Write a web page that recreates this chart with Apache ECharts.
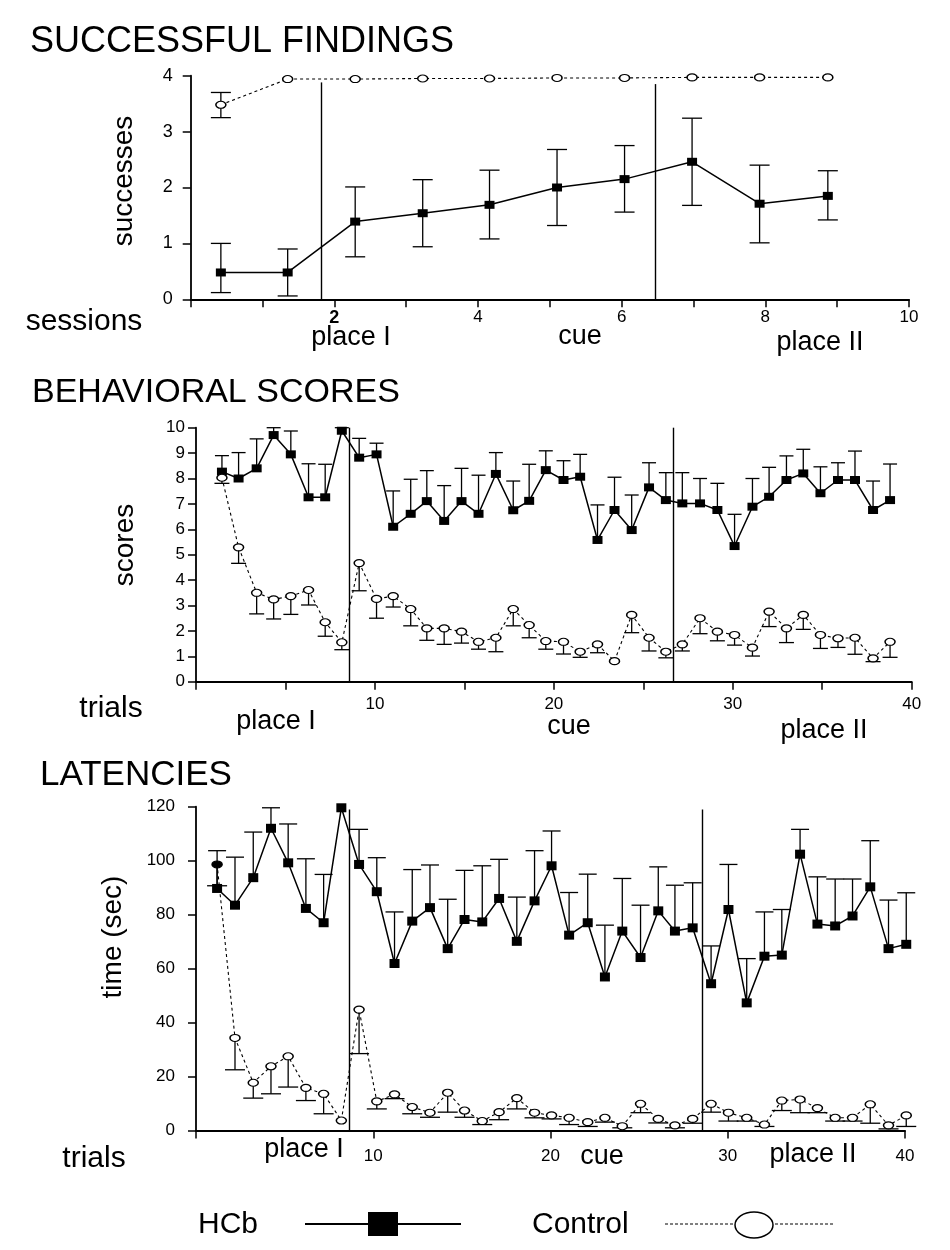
<!DOCTYPE html>
<html>
<head>
<meta charset="utf-8">
<script src="https://cdn.jsdelivr.net/npm/echarts@6/dist/echarts.min.js"></script>
<style>
  html, body { margin: 0; padding: 0; background: #fff; }
  #chart { width: 950px; height: 1250px; }
</style>
</head>
<body>
<div id="chart"></div>
<script>
// ---------- SUCCESSFUL FINDINGS (per session) ----------
const sessionX = [0.42, 1.35, 2.29, 3.23, 4.16, 5.10, 6.04, 6.98, 7.92, 8.87];
const hcbSuccess   = [0.48, 0.48, 1.39, 1.54, 1.69, 2.00, 2.15, 2.46, 1.71, 1.85];
const hcbSuccessHi = [1.00, 0.90, 2.01, 2.14, 2.31, 2.68, 2.75, 3.24, 2.40, 2.30];
const hcbSuccessLo = [0.12, 0.06, 0.76, 0.94, 1.08, 1.32, 1.56, 1.68, 1.01, 1.42];
const ctrlSuccess   = [3.48, 3.94, 3.94, 3.95, 3.95, 3.96, 3.96, 3.97, 3.97, 3.97];
const ctrlSuccessHi = [3.70, null, null, null, null, null, null, null, null, null];
const ctrlSuccessLo = [3.25, null, null, null, null, null, null, null, null, null];
const sessionBreaks = [1.82, 6.47];
const sessionBreakTop = [3.88, 3.85];
const sessionTicks = [2, 4, 6, 8, 10];

// ---------- BEHAVIORAL SCORES (per trial) ----------
const scoreX = [1.45, 2.38, 3.39, 4.34, 5.30, 6.29, 7.22, 8.15, 9.12, 10.09,
  11.02, 12.00, 12.90, 13.87, 14.84, 15.79, 16.76, 17.73, 18.62, 19.55,
  20.54, 21.47, 22.44, 23.39, 24.35, 25.32, 26.26, 27.18, 28.17, 29.14,
  30.10, 31.10, 32.03, 33.00, 33.94, 34.90, 35.88, 36.83, 37.84, 38.79];
const hcbScores = [8.27, 8.00, 8.40, 9.71, 8.95, 7.26, 7.26, 9.88, 8.82, 8.95,
  6.10, 6.61, 7.11, 6.33, 7.11, 6.61, 8.18, 6.75, 7.12, 8.33,
  7.94, 8.07, 5.58, 6.76, 5.97, 7.65, 7.15, 7.02, 7.02, 6.76,
  5.34, 6.89, 7.28, 7.94, 8.20, 7.42, 7.94, 7.94, 6.76, 7.15];
const hcbScoresHi = [8.90, 9.02, 9.56, 10.0, 9.87, 8.58, 8.56, 10.0, 9.58, 9.39,
  7.51, 7.97, 8.31, 7.72, 8.40, 8.13, 9.02, 7.90, 8.56, 9.09,
  8.70, 8.95, 6.96, 8.05, 7.35, 8.62, 8.23, 8.23, 8.00, 7.81,
  6.59, 8.00, 8.44, 8.89, 9.15, 8.46, 8.62, 9.08, 7.90, 8.57];
const ctrlScores = [8.03, 5.29, 3.50, 3.24, 3.37, 3.61, 2.34, 1.55, 4.67, 3.26,
  3.37, 2.86, 2.10, 2.10, 1.97, 1.57, 1.73, 2.86, 2.23, 1.60,
  1.57, 1.18, 1.47, 0.81, 2.63, 1.73, 1.18, 1.47, 2.50, 1.97,
  1.84, 1.34, 2.76, 2.10, 2.63, 1.84, 1.71, 1.73, 0.92, 1.57];
const ctrlScoresLo = [7.81, 4.66, 2.67, 2.47, 2.65, 3.02, 1.79, 1.26, 3.58, 2.50,
  2.94, 2.20, 1.63, 1.47, 1.52, 1.28, 1.18, 2.20, 1.73, 1.28,
  1.09, 0.96, 1.14, null, 1.93, 1.21, 0.94, 1.21, 1.89, 1.61,
  1.44, 1.01, 2.17, 1.54, 2.06, 1.31, 1.35, 1.08, 0.79, 0.96];
const scoreBreaks = [8.58, 26.68];
const scoreBreakTop = [10, 10];

// ---------- LATENCIES (per trial) ----------
const latX = [1.19, 2.20, 3.23, 4.23, 5.20, 6.20, 7.20, 8.20, 9.20, 10.20,
  11.20, 12.20, 13.20, 14.20, 15.15, 16.15, 17.10, 18.10, 19.10, 20.06,
  21.05, 22.10, 23.07, 24.05, 25.08, 26.08, 27.02, 28.02, 29.06, 30.04,
  31.07, 32.07, 33.05, 34.08, 35.06, 36.06, 37.04, 38.04, 39.07, 40.07];
const hcbLat = [89.7, 83.5, 93.7, 112.0, 99.2, 82.3, 77.0, 119.6, 98.6, 88.5,
  61.9, 77.6, 82.6, 67.4, 78.2, 77.3, 86.0, 70.1, 85.1, 98.1,
  72.4, 77.0, 56.9, 73.9, 64.1, 81.4, 73.9, 75.1, 54.4, 81.9,
  47.3, 64.6, 65.0, 102.4, 76.5, 75.8, 79.5, 90.3, 67.4, 69.0];
const hcbLatHi = [103.7, 101.3, 110.6, 119.6, 113.6, 100.7, 94.9, null, 111.6, 101.1,
  81.0, 96.7, 98.4, 85.7, 96.4, 98.1, 100.5, 86.5, 103.7, 111.0,
  88.2, 95.0, 76.1, 93.4, 83.5, 97.7, 90.9, 91.8, 68.4, 98.6,
  63.7, 81.0, 81.9, 111.6, 94.0, 93.2, 93.2, 107.4, 85.4, 88.1];
const ctrlLat = [98.6, 34.3, 17.7, 23.8, 27.5, 15.8, 13.6, 3.7, 44.8, 10.8,
  13.4, 8.7, 6.6, 14.0, 7.4, 3.5, 6.8, 12.0, 6.6, 5.6,
  4.7, 3.1, 4.7, 1.6, 9.9, 4.3, 1.9, 4.3, 9.9, 6.6,
  4.7, 2.2, 11.1, 11.5, 8.3, 4.7, 4.7, 9.7, 1.9, 5.6];
const ctrlLatLo = [90.7, 22.5, 12.0, 13.6, 16.1, 11.1, 6.2, null, 28.5, 8.0,
  11.8, 6.2, 4.9, 6.8, 4.9, 2.2, 4.0, 8.0, 4.7, 4.3,
  2.2, 1.5, 3.1, 1.0, 6.6, 2.8, 1.0, 2.7, 6.8, 3.5,
  3.5, 1.5, 7.4, 6.6, 6.6, 3.5, 3.5, 2.7, 0.6, 1.5];
const latBreaks = [8.67, 28.57];
const latBreakTop = [119, 119];

const phaseNames = ['place I', 'cue', 'place II'];
const seriesNames = ['HCb', 'Control'];

// ---------- helpers ----------
const FONT = '"Liberation Sans", Arial, Helvetica, sans-serif';
function pts(xs, ys) { return xs.map((x, i) => [x, ys[i]]); }
function errs(xs, ys, lo, hi) {
  const out = [];
  xs.forEach((x, i) => {
    const l = lo ? lo[i] : null, h = hi ? hi[i] : null;
    if (l == null && h == null) return;
    out.push([x, ys[i], l == null ? ys[i] : l, h == null ? ys[i] : h]);
  });
  return out;
}
function errRender(half) {
  return function (params, api) {
    const x = api.value(0), y = api.value(1), lo = api.value(2), hi = api.value(3);
    const pLo = api.coord([x, lo]), pHi = api.coord([x, hi]);
    const st = { stroke: '#000', lineWidth: 1.3 };
    const ch = [{ type: 'line', shape: { x1: pLo[0], y1: pLo[1], x2: pHi[0], y2: pHi[1] }, style: st }];
    if (lo < y) ch.push({ type: 'line', shape: { x1: pLo[0] - half, y1: pLo[1], x2: pLo[0] + half, y2: pLo[1] }, style: st });
    if (hi > y) ch.push({ type: 'line', shape: { x1: pHi[0] - half, y1: pHi[1], x2: pHi[0] + half, y2: pHi[1] }, style: st });
    return { type: 'group', children: ch };
  };
}
function breaksLine(xs, tops) {
  return {
    symbol: ['none', 'none'], silent: true, animation: false,
    label: { show: false },
    lineStyle: { color: '#000', width: 1.4, type: 'solid' },
    emphasis: { disabled: true },
    data: xs.map((b, i) => [{ coord: [b, 0] }, { coord: [b, tops[i]] }])
  };
}
function panelSeries(idx, xs, hcb, hcbLo, hcbHi, ctrl, ctrlLo, ctrlHi, br, brTop, opt) {
  const hcbData = pts(xs, hcb);
  const ctrlData = pts(xs, ctrl).map((p, i) =>
    (opt.filledCtrl && opt.filledCtrl.indexOf(i) >= 0)
      ? { value: p, itemStyle: { color: '#000' } } : p);
  return [
    { type: 'custom', name: seriesNames[0] + ' err', xAxisIndex: idx, yAxisIndex: idx, silent: true, clip: false,
      renderItem: errRender(opt.capH), encode: { x: 0, y: 1 }, data: errs(xs, hcb, hcbLo, hcbHi), z: 2 },
    { type: 'custom', name: seriesNames[1] + ' err', xAxisIndex: idx, yAxisIndex: idx, silent: true, clip: false,
      renderItem: errRender(opt.capC), encode: { x: 0, y: 1 }, data: errs(xs, ctrl, ctrlLo, ctrlHi), z: 2 },
    { type: 'line', name: seriesNames[0], xAxisIndex: idx, yAxisIndex: idx, data: hcbData, clip: false,
      symbol: 'rect', symbolSize: opt.sq, showAllSymbol: true,
      itemStyle: { color: '#000' }, lineStyle: { color: '#000', width: 1.5 }, z: 3,
      markLine: breaksLine(br, brTop) },
    { type: 'line', name: seriesNames[1], xAxisIndex: idx, yAxisIndex: idx, data: ctrlData, clip: false,
      symbol: 'circle', symbolSize: opt.circ, showAllSymbol: true,
      itemStyle: { color: '#fff', borderColor: '#000', borderWidth: 1.3 },
      lineStyle: { color: '#000', width: 1.1, type: [3, 3] }, z: 4 }
  ];
}

const axisLine = { show: true, onZero: false, lineStyle: { color: '#000', width: 1.8 } };
const axisTick = { show: true, inside: false, length: 8, lineStyle: { color: '#000', width: 1.5 } };

const chart = echarts.init(document.getElementById('chart'), null, { renderer: 'canvas' });

function txt(text, x, y, size, opts) {
  opts = opts || {};
  return {
    type: 'text', x: x, y: y, rotation: opts.rot || 0, silent: true,
    style: {
      text: text, fill: '#000', font: (opts.weight || 'normal') + ' ' + size + 'px ' + FONT,
      textAlign: opts.align || 'center', textVerticalAlign: 'middle',
      align: opts.align || 'center', verticalAlign: 'middle'
    }
  };
}

const option = {
  animation: false,
  backgroundColor: '#fff',
  textStyle: { fontFamily: FONT, color: '#000' },
  grid: [
    { left: 190.7, right: 41, top: 75.7, bottom: 950.7 },
    { left: 196, right: 38.3, top: 427.7, bottom: 568.3 },
    { left: 196, right: 45, top: 806.7, bottom: 119.5 }
  ],
  xAxis: [
    { type: 'value', gridIndex: 0, min: 0, max: 10, interval: 1, axisLine, axisTick, splitLine: { show: false },
      axisLabel: { margin: 10, fontSize: 17, color: '#000', fontFamily: FONT,
        formatter: v => sessionTicks.indexOf(v) < 0 ? '' : (v === sessionTicks[0] ? '{b|' + v + '}' : String(v)),
        rich: { b: { fontWeight: 'bold', fontSize: 18, fontFamily: FONT, color: '#000' } } } },
    { type: 'value', gridIndex: 1, min: 0, max: 40, interval: 5, axisLine, axisTick, splitLine: { show: false },
      axisLabel: { margin: 14, fontSize: 17, color: '#000', fontFamily: FONT,
        formatter: v => (v > 0 && v % 10 === 0) ? String(v) : '' } },
    { type: 'value', gridIndex: 2, min: 0, max: 40, interval: 10, axisLine, axisTick, splitLine: { show: false },
      axisLabel: { margin: 17, fontSize: 17, color: '#000', fontFamily: FONT,
        formatter: v => v > 0 ? String(v) : '' } }
  ],
  yAxis: [
    { type: 'value', gridIndex: 0, min: 0, max: 4, interval: 1, axisLine, axisTick, splitLine: { show: false },
      axisLabel: { margin: 18, fontSize: 18, color: '#000', fontFamily: FONT } },
    { type: 'value', gridIndex: 1, min: 0, max: 10, interval: 1, axisLine, axisTick, splitLine: { show: false },
      axisLabel: { margin: 11, fontSize: 17, color: '#000', fontFamily: FONT } },
    { type: 'value', gridIndex: 2, min: 0, max: 120, interval: 20, axisLine, axisTick, splitLine: { show: false },
      axisLabel: { margin: 21, fontSize: 17, color: '#000', fontFamily: FONT } }
  ],
  series: [].concat(
    panelSeries(0, sessionX, hcbSuccess, hcbSuccessLo, hcbSuccessHi, ctrlSuccess, ctrlSuccessLo, ctrlSuccessHi,
      sessionBreaks, sessionBreakTop, { capH: 10, capC: 10, sq: [10, 8], circ: [10, 7] }),
    panelSeries(1, scoreX, hcbScores, null, hcbScoresHi, ctrlScores, ctrlScoresLo, null,
      scoreBreaks, scoreBreakTop, { capH: 7, capC: 7.5, sq: [10, 8], circ: [10, 7] }),
    panelSeries(2, latX, hcbLat, null, hcbLatHi, ctrlLat, ctrlLatLo, null,
      latBreaks, latBreakTop, { capH: 9, capC: 10, sq: [10, 9], circ: [10, 7], filledCtrl: [0] })
  ),
  graphic: [
    txt('SUCCESSFUL FINDINGS', 30, 42, 36, { align: 'left' }),
    txt('BEHAVIORAL SCORES', 32, 393, 34, { align: 'left' }),
    txt('LATENCIES', 40, 775, 35, { align: 'left' }),
    txt('successes', 124, 181, 28, { rot: Math.PI / 2 }),
    txt('scores', 125, 545, 28, { rot: Math.PI / 2 }),
    txt('time (sec)', 113, 937, 28, { rot: Math.PI / 2 }),
    txt('sessions', 84, 322, 30),
    txt('trials', 111, 709, 30),
    txt('trials', 94, 1159, 30),
    txt(phaseNames[0], 351, 338, 27),
    txt(phaseNames[1], 580, 337, 27),
    txt(phaseNames[2], 820, 343, 27),
    txt(phaseNames[0], 276, 722, 27),
    txt(phaseNames[1], 569, 727, 27),
    txt(phaseNames[2], 824, 731, 27),
    txt(phaseNames[0], 304, 1150, 27),
    txt(phaseNames[1], 602, 1157, 27),
    txt(phaseNames[2], 813, 1155, 27),
    // legend
    txt(seriesNames[0], 198, 1225, 30, { align: 'left' }),
    { type: 'line', silent: true, shape: { x1: 305, y1: 1224, x2: 461, y2: 1224 }, style: { stroke: '#000', lineWidth: 2 } },
    { type: 'rect', silent: true, shape: { x: 368, y: 1212, width: 30, height: 24 }, style: { fill: '#000' } },
    txt(seriesNames[1], 532, 1225, 30, { align: 'left' }),
    { type: 'line', silent: true, shape: { x1: 665, y1: 1224, x2: 835, y2: 1224 }, style: { stroke: '#000', lineWidth: 1, lineDash: [3, 2] } },
    { type: 'ellipse', silent: true, shape: { cx: 754, cy: 1225, rx: 19, ry: 13 }, style: { fill: '#fff', stroke: '#000', lineWidth: 1.5 } }
  ]
};
chart.setOption(option);
</script>
</body>
</html>
